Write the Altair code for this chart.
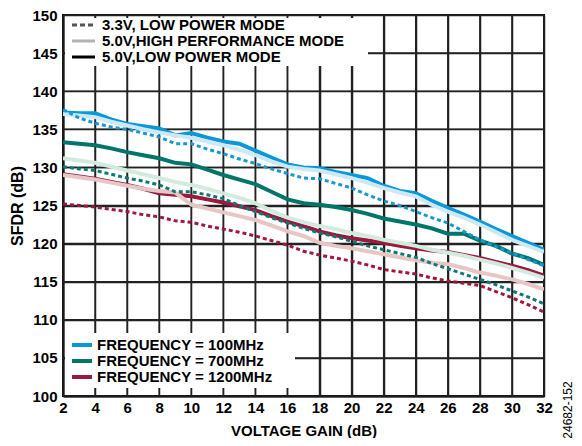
import altair as alt
import pandas as pd

GAIN = list(range(2, 33))
FREQS = ["100MHz", "700MHz", "1200MHz"]
MODES = ["3.3V, LOW POWER MODE", "5.0V,HIGH PERFORMANCE MODE", "5.0V,LOW POWER MODE"]
FREQ_LABELS = ["FREQUENCY = 100MHz", "FREQUENCY = 700MHz", "FREQUENCY = 1200MHz"]

# 5.0V low power mode
LP_100 = [137.2, 137.1, 137.1, 136.3, 135.7, 135.4, 135.1, 134.2, 134.5, 133.9, 133.4, 133.1, 132.2, 131.3, 130.4, 130.0,
          129.9, 129.4, 129.0, 128.6, 127.6, 126.9, 126.6, 125.6, 124.7, 123.8, 122.9, 121.9, 121.0, 120.1, 119.2]
LP_700 = [133.3, 133.1, 132.9, 132.5, 132.0, 131.6, 131.2, 130.6, 130.4, 129.7, 129.0, 128.4, 127.8, 126.8, 125.8, 125.3,
          125.1, 124.8, 124.4, 123.9, 123.3, 122.9, 122.5, 122.0, 121.3, 121.3, 120.4, 119.7, 118.7, 118.1, 117.2]
LP_1200 = [129.1, 128.8, 128.5, 128.1, 127.7, 127.2, 126.6, 126.4, 126.2, 125.8, 125.4, 124.9, 124.4, 123.6, 122.9, 122.3,
           121.6, 121.1, 120.7, 120.4, 120.1, 119.7, 119.4, 119.1, 118.9, 118.5, 118.1, 117.6, 117.1, 116.5, 115.8]
# 5.0V high performance mode
HP_100 = [137.0, 136.8, 136.6, 136.0, 135.5, 135.0, 134.6, 134.2, 133.9, 133.4, 132.9, 132.3, 131.6, 130.8, 130.1, 129.8,
          129.6, 129.1, 128.6, 128.0, 127.3, 126.7, 126.2, 125.1, 124.2, 123.4, 122.5, 121.5, 120.5, 119.7, 118.9]
HP_700 = [131.2, 130.9, 130.6, 130.1, 129.6, 129.1, 128.6, 128.1, 127.7, 127.2, 126.6, 126.0, 125.3, 124.3, 123.4, 122.8,
          122.3, 121.9, 121.4, 121.0, 120.5, 120.1, 119.7, 119.2, 118.8, 118.4, 117.9, 117.4, 116.8, 116.2, 115.5]
HP_1200 = [129.0, 128.7, 128.4, 128.0, 127.6, 127.2, 126.9, 126.7, 125.1, 124.6, 124.1, 123.6, 123.1, 122.4, 121.6, 121.0,
           120.1, 119.7, 119.4, 119.0, 118.6, 118.2, 117.8, 117.5, 117.3, 116.8, 116.2, 115.8, 115.3, 114.7, 114.0]
# 3.3V low power mode
V33_100 = [137.6, 136.5, 135.8, 135.3, 135.0, 134.5, 134.0, 133.1, 133.1, 132.4, 131.8, 131.1, 130.5, 129.8, 129.2, 128.6,
           128.5, 127.9, 127.3, 126.4, 125.6, 125.0, 124.2, 123.4, 122.7, 121.6, 120.5, 119.6, 118.8, 117.9, 117.1]
V33_700 = [130.1, 129.8, 129.6, 129.1, 128.6, 128.2, 127.7, 126.8, 126.8, 126.4, 125.9, 125.0, 124.2, 123.4, 122.7, 122.0,
           121.4, 120.9, 120.3, 119.7, 119.2, 118.7, 118.2, 117.4, 116.7, 116.0, 115.3, 114.6, 113.8, 113.0, 112.1]
V33_1200 = [125.2, 125.0, 124.8, 124.5, 124.2, 123.8, 123.5, 123.0, 122.8, 122.3, 121.9, 121.5, 121.0, 120.4, 119.8, 119.0,
            118.5, 118.1, 117.7, 117.2, 116.6, 116.3, 116.0, 115.5, 115.1, 114.8, 114.5, 113.7, 112.9, 112.0, 111.0]

X_TICKS = list(range(2, 33, 2))
Y_TICKS = list(range(100, 151, 5))

COL_LP = ["#0a99d8", "#00766b", "#9a1a3f"]
COL_HP = ["#cde8f7", "#d3eadf", "#e8c6c6"]
COL_33 = ["#1798d6", "#0a7a70", "#9e173d"]
KEY_COLORS = ["#555555", "#b3b3b3", "#000000"]

SERIES = {
    (MODES[2], FREQS[0]): LP_100, (MODES[2], FREQS[1]): LP_700, (MODES[2], FREQS[2]): LP_1200,
    (MODES[1], FREQS[0]): HP_100, (MODES[1], FREQS[1]): HP_700, (MODES[1], FREQS[2]): HP_1200,
    (MODES[0], FREQS[0]): V33_100, (MODES[0], FREQS[1]): V33_700, (MODES[0], FREQS[2]): V33_1200,
}

rows = []
for (mode, freq), vals in SERIES.items():
    for g, v in zip(GAIN, vals):
        rows.append({"gain": g, "sfdr": v, "mode": mode, "freq": freq})
df = pd.DataFrame(rows)

FONT = "Liberation Sans"
W, H = 481, 381

xs = alt.Scale(domain=[2, 32], nice=False, zero=False)
ys = alt.Scale(domain=[100, 150], nice=False, zero=False)
x_axis = alt.Axis(values=X_TICKS, title="VOLTAGE GAIN (dB)", labelPadding=4, titlePadding=8,
                  grid=True, format="d", labelOverlap=False, labelFlush=False)
y_axis = alt.Axis(values=Y_TICKS, title="SFDR (dB)", labelPadding=6, titlePadding=6, grid=True,
                  titleFontSize=16, labelOverlap=False)

x_enc = alt.X("gain:Q", scale=xs, axis=x_axis)
y_enc = alt.Y("sfdr:Q", scale=ys, axis=y_axis)

layers = []

# grid lines
layers.append(alt.Chart(pd.DataFrame({"gain": X_TICKS})).mark_rule(color="#222222", strokeWidth=1.5).encode(
    x=x_enc))
layers.append(alt.Chart(pd.DataFrame({"sfdr": Y_TICKS})).mark_rule(color="#222222", strokeWidth=1.5).encode(
    y=y_enc))

order = [(MODES[2], COL_LP, 4, None), (MODES[1], COL_HP, 4, None), (MODES[0], COL_33, 3, [4, 3])]
for mode, cols, w, dash in order:
    for freq, c in zip(FREQS, cols):
        kw = dict(strokeWidth=w, color=c, clip=True, strokeCap="butt")
        if dash:
            kw["strokeDash"] = dash
        layers.append(
            alt.Chart(df).transform_filter((alt.datum.mode == mode) & (alt.datum.freq == freq))
            .mark_line(**kw).encode(x=x_enc, y=y_enc)
        )

one = pd.DataFrame({"k": [0]})

# legend boxes
layers.append(alt.Chart(one).mark_rect(fill="white").encode(
    x=alt.value(2), x2=alt.value(305), y=alt.value(3), y2=alt.value(51)))
layers.append(alt.Chart(one).mark_rect(fill="white").encode(
    x=alt.value(2), x2=alt.value(232), y=alt.value(318), y2=alt.value(373)))

top_rows = [10, 26, 42]
top_dash = [[5, 3], None, None]
for lab, col, dsh, yy in zip(MODES, KEY_COLORS, top_dash, top_rows):
    kw = dict(color=col, strokeWidth=3, strokeCap="butt")
    if dsh:
        kw["strokeDash"] = dsh
    layers.append(alt.Chart(one).mark_rule(**kw).encode(
        x=alt.value(9), x2=alt.value(32), y=alt.value(yy)))
    layers.append(alt.Chart(one).mark_text(text=lab, align="left", baseline="middle", font=FONT,
                                           fontWeight="bold", fontSize=15, color="black").encode(
        x=alt.value(39), y=alt.value(yy)))

bot_rows = [330, 346, 362]
for lab, col, yy in zip(FREQ_LABELS, COL_LP, bot_rows):
    layers.append(alt.Chart(one).mark_rule(color=col, strokeWidth=4, strokeCap="butt").encode(
        x=alt.value(9), x2=alt.value(29), y=alt.value(yy)))
    layers.append(alt.Chart(one).mark_text(text=lab, align="left", baseline="middle", font=FONT,
                                           fontWeight="bold", fontSize=15, color="black").encode(
        x=alt.value(34), y=alt.value(yy)))

layers.append(alt.Chart(one).mark_text(text="24682-152", angle=270, align="center", baseline="middle",
                                       font=FONT, fontSize=12, color="black").encode(
    x=alt.value(505), y=alt.value(395)))

chart = alt.layer(*layers).properties(
    width=W, height=H,
    autosize=alt.AutoSizeParams(type="none"),
    padding={"left": 55, "top": 7, "right": 30, "bottom": 42},
).configure(font=FONT).configure_view(
    stroke="black", strokeWidth=2
).configure_axis(
    labelFont=FONT, labelFontWeight="bold", labelFontSize=15, labelColor="black",
    titleFont=FONT, titleFontWeight="bold", titleFontSize=15, titleColor="black",
    gridColor="#222222", gridWidth=1.5, gridOpacity=1,
    domainColor="black", domainWidth=2, ticks=False,
)

chart.save("out.html", embed_options={"renderer": "svg", "actions": False})
